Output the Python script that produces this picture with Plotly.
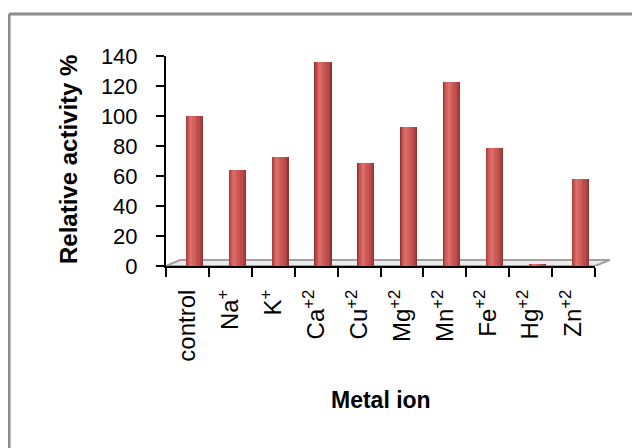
import plotly.graph_objects as go

categories = ["control", "Na<sup>+</sup>", "K<sup>+</sup>", "Ca<sup>+2</sup>", "Cu<sup>+2</sup>",
              "Mg<sup>+2</sup>", "Mn<sup>+2</sup>", "Fe<sup>+2</sup>", "Hg<sup>+2</sup>", "Zn<sup>+2</sup>"]
activity = [100, 64, 73, 136, 69, 93, 123, 79, 1, 58]
y_ticks = [0, 20, 40, 60, 80, 100, 120, 140]

# page body has an 8px default margin, so the figure is drawn from (8, 8)
OFF = 8
W, H = 640 - OFF, 448 - OFF
L, R, T, B = 166 - OFF, 45, 56 - OFF, 182
pw, ph = W - L - R, H - T - B


def px_x(sx):
    return (sx - OFF - L) / pw


def px_y(sy):
    return (H - B - (sy - OFF)) / ph


fig = go.Figure()

# cylinder-like shading: stacked overlays of narrowing bars
layers = [
    (0.40, 0.16, "#8f3634"),
    (0.36, 0.15, "#a8413e"),
    (0.30, 0.14, "#bb4c49"),
    (0.22, 0.12, "#c85754"),
    (0.13, 0.10, "#d4625f"),
    (0.05, 0.09, "#dc6e6b"),
]
for w, shift, col in layers:
    fig.add_trace(go.Bar(
        x=categories, y=activity, width=w, offset=-w / 2 + shift,
        marker=dict(color=col, line=dict(width=0)),
        hoverinfo="skip", showlegend=False,
    ))

# floor (3-D base)
dx = 14 / pw
fig.add_shape(type="path", xref="paper", yref="y", layer="below",
              path=f"M 0 0 L {dx} 4 L {1 + dx * 1.05} 4 L 1 0 Z",
              line=dict(color="#a0a0a0", width=2), fillcolor="#ececec")

# outer border (top and left visible)
fig.add_shape(type="line", xref="paper", yref="paper",
              x0=px_x(9), x1=px_x(660), y0=px_y(14), y1=px_y(14),
              line=dict(color="#8c8c8c", width=3))
fig.add_shape(type="line", xref="paper", yref="paper",
              x0=px_x(9), x1=px_x(9), y0=px_y(14), y1=px_y(470),
              line=dict(color="#8c8c8c", width=3))

fig.update_layout(
    width=W, height=H,
    margin=dict(l=L, r=R, t=T, b=B),
    paper_bgcolor="white", plot_bgcolor="white",
    barmode="overlay", bargap=0,
    font=dict(family="Liberation Sans, Arial, sans-serif", color="black"),
    showlegend=False,
)
fig.update_xaxes(
    type="category", range=[-0.5, 9.5],
    showline=True, linecolor="black", linewidth=2,
    ticks="outside", tickson="boundaries", ticklen=9, tickwidth=2, tickcolor="black",
    tickangle=-90, tickfont=dict(size=24), ticklabelstandoff=12,
    showgrid=False, zeroline=False,
)
fig.update_yaxes(
    range=[0, 140], tickvals=y_ticks, ticktext=[str(v) for v in y_ticks],
    showline=True, linecolor="black", linewidth=2,
    ticks="outside", ticklen=8, tickwidth=2, tickcolor="black",
    tickfont=dict(size=22), ticklabelstandoff=14,
    showgrid=False, zeroline=False,
)

fig.add_annotation(text="<b>Relative activity %</b>", textangle=-90,
                   xref="paper", yref="paper",
                   x=px_x(68), y=px_y(160),
                   xanchor="center", yanchor="middle", showarrow=False,
                   font=dict(size=24))
fig.add_annotation(text="<b>Metal ion</b>",
                   xref="paper", yref="paper",
                   x=px_x(381), y=px_y(400),
                   xanchor="center", yanchor="middle", showarrow=False,
                   font=dict(size=23))

fig.write_html("out.html")
